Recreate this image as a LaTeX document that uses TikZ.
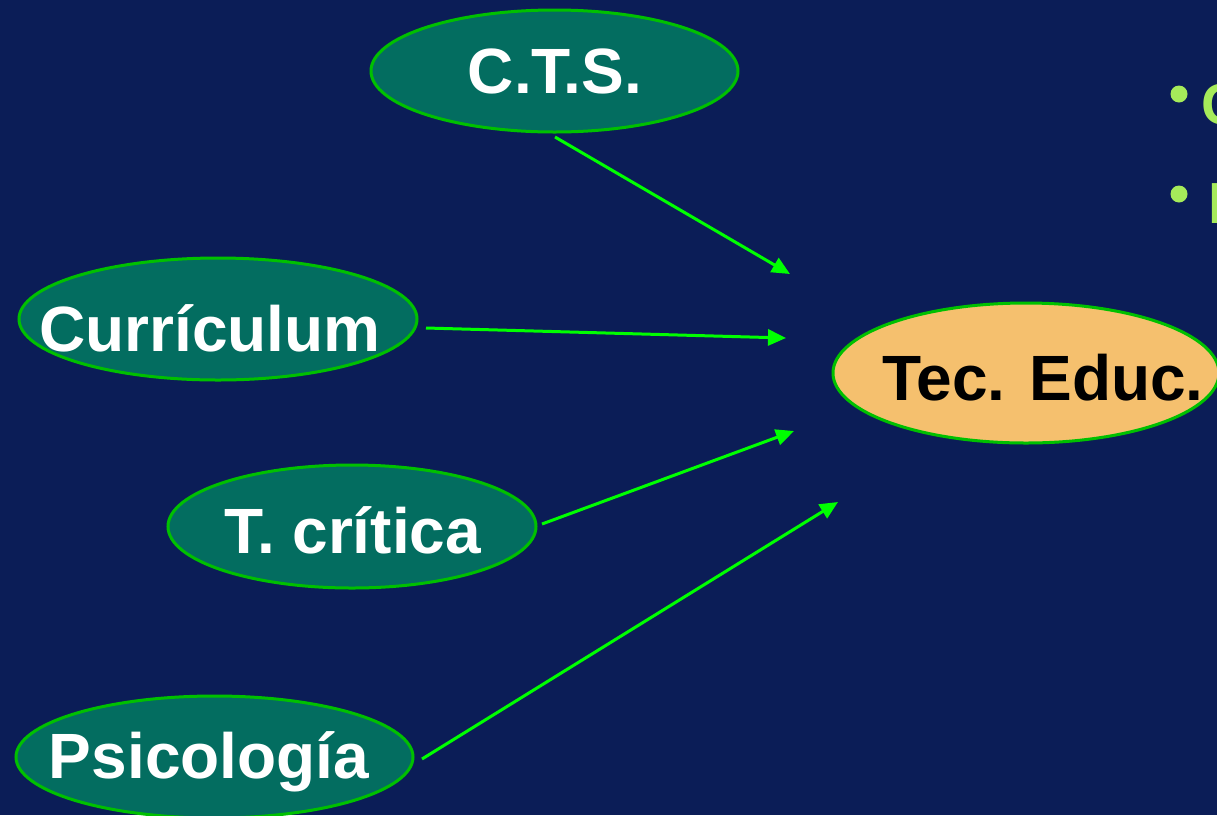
\documentclass[tikz,border=0pt]{standalone}
\usepackage{fontspec}
\setmainfont{Liberation Sans}
\usetikzlibrary{shapes.geometric,arrows.meta}
\definecolor{bg}{HTML}{0B1D57}
\definecolor{teal}{HTML}{036D60}
\definecolor{rim}{HTML}{00C000}
\definecolor{arr}{HTML}{00FF00}
\definecolor{peach}{HTML}{F5C06E}
\definecolor{bul}{HTML}{A6EB5A}
\tikzset{
  oval/.style={ellipse, draw=rim, line width=3pt, fill=teal, inner sep=0pt},
  lab/.style={font=\bfseries\fontsize{64}{70}\selectfont, text=white, inner sep=0pt},
  conn/.style={draw=arr, line width=3pt, -{Triangle[length=18pt,width=16pt]}},
  bullet/.style={circle, fill=bul, minimum size=17pt, inner sep=0pt},
  btext/.style={font=\bfseries\fontsize{58}{64}\selectfont, text=bul, inner sep=0pt, anchor=base west}
}
\begin{document}
\begin{tikzpicture}[x=1pt,y=-1pt]
\useasboundingbox (0,0) rectangle (1217,815);
\clip (0,0) rectangle (1217,815);
\fill[bg] (0,0) rectangle (1217,815);
% ellipses
\node[oval, minimum width=367pt, minimum height=122pt] (cts) at (554.5,71) {};
\node[oval, minimum width=398pt, minimum height=122pt] (cur) at (218,319) {};
\node[oval, minimum width=368pt, minimum height=123pt] (tcr) at (352,526.5) {};
\node[oval, minimum width=397pt, minimum height=122pt] (psi) at (214.5,757) {};
\node[oval, fill=peach, minimum width=386pt, minimum height=140pt] (tec) at (1026,373) {};
% labels
\node[lab] (ctsL) at (555,71) {C.T.S.};
\node[lab] (curL) at (210,328) {Currículum};
\node[lab] (tcrL) at (353,530) {T. crítica};
\node[lab] (psiL) at (209,762) {Psicología};
\node[lab, text=black] (tecL) at (1043,378) {Tec. Educ.};
% bullets (cut at the right edge)
\node[bullet] (b1) at (1179,94) {};
\node[bullet] (b2) at (1179,194) {};
\node[btext] (t1) at (1201,124) {C};
\node[btext] (t2) at (1208,223) {P};
% arrow coordinates
\coordinate (s1) at (555,137);
\coordinate (e1) at (790,274);
\coordinate (s2) at (426,328);
\coordinate (e2) at (786,338);
\coordinate (s3) at (542,524);
\coordinate (e3) at (794,431);
\coordinate (s4) at (422,759);
\coordinate (e4) at (838,502);
\draw[conn] (s1) -- (e1);
\draw[conn] (s2) -- (e2);
\draw[conn] (s3) -- (e3);
\draw[conn] (s4) -- (e4);
\end{tikzpicture}
\end{document}
